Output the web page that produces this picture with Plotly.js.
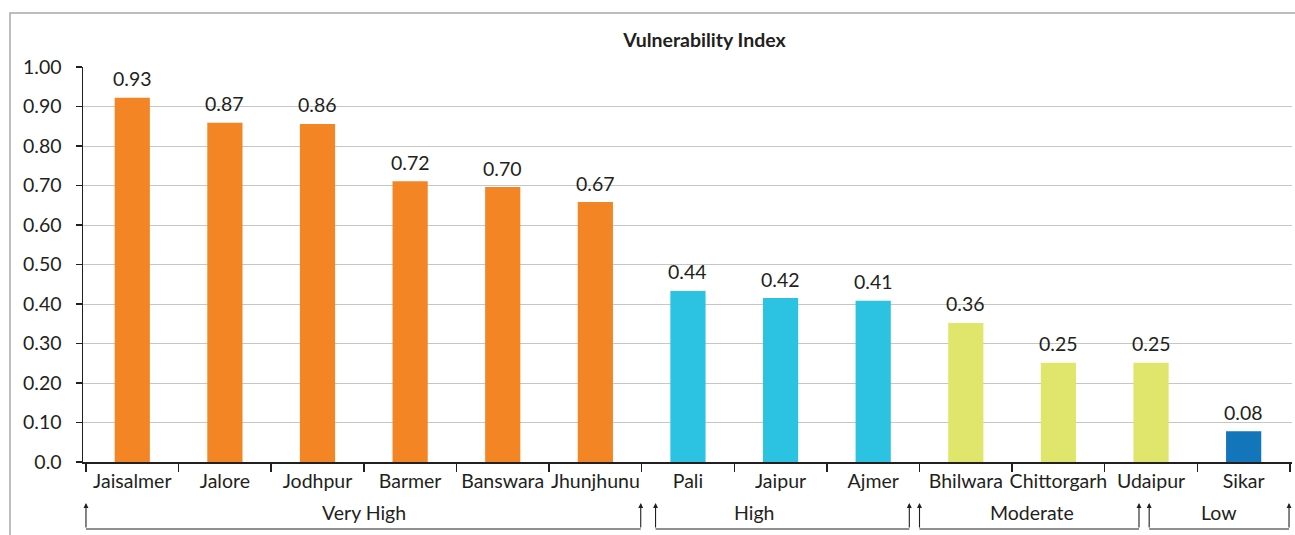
<!DOCTYPE html>
<html>
<head>
<meta charset="utf-8">
<script src="https://cdn.plot.ly/plotly-3.0.1.min.js"></script>
<style>html,body{margin:0;padding:0;background:#fff;}#chart{width:1295px;height:535px;}</style>
</head>
<body>
<div id="chart"></div>
<script>
// ---- data ----
const districts = ['Jaisalmer','Jalore','Jodhpur','Barmer','Banswara','Jhunjhunu','Pali','Jaipur','Ajmer','Bhilwara','Chittorgarh','Udaipur','Sikar'];
const indexValues = [0.922, 0.859, 0.856, 0.711, 0.696, 0.658, 0.433, 0.415, 0.408, 0.352, 0.251, 0.251, 0.078];
const valueLabels = ['0.93','0.87','0.86','0.72','0.70','0.67','0.44','0.42','0.41','0.36','0.25','0.25','0.08'];
const districtGroup = ['Very High','Very High','Very High','Very High','Very High','Very High','High','High','High','Moderate','Moderate','Moderate','Low'];
const groupNames = ['Very High','High','Moderate','Low'];
const yTickVals = [0,0.1,0.2,0.3,0.4,0.5,0.6,0.7,0.8,0.9,1.0];
const yTickText = ['0.0','0.10','0.20','0.30','0.40','0.50','0.60','0.70','0.80','0.90','1.00'];

// ---- styling / layout helpers ----
const groupColors = {'Very High':'#f48524','High':'#2bc3e1','Moderate':'#e0e56b','Low':'#1375ba'};
// bracket extents (category-index units) and label centres for each group
const bracketStart = [-0.5, 5.65, 8.5, 10.98];
const bracketEnd   = [5.49, 8.39, 10.87, 12.49];
const bracketLabelX = [2.5, 6.71, 9.71, 11.73];

const font = 'Lato, Noto Sans, sans-serif';
const fs = 19.5;
const ink = '#231f20';

const trace = {
  type: 'bar',
  x: districts,
  y: indexValues,
  marker: {color: districtGroup.map(g => groupColors[g])},
  hoverinfo: 'x+y'
};

const annotations = [];
districts.forEach((d, i) => {
  annotations.push({
    x: d, y: indexValues[i], xref: 'x', yref: 'y',
    text: valueLabels[i], showarrow: false,
    yanchor: 'middle', yshift: 19,
    font: {family: font, size: fs, color: ink}
  });
});

const yTop = -0.104, yBot = -0.1696, yLab = -0.129;
const shapes = [
  {type:'rect', xref:'paper', yref:'paper', x0:-0.0604, x1:1.02, y0:-0.3, y1:1.1367,
   line:{color:'#a8a8a8', width:1.5}, fillcolor:'rgba(0,0,0,0)', layer:'below'}
];
groupNames.forEach((g, i) => {
  shapes.push({type:'line', xref:'x', yref:'paper', x0:bracketStart[i], x1:bracketEnd[i], y0:yBot, y1:yBot,
    line:{color:ink, width:1.2}});
  [bracketStart[i], bracketEnd[i]].forEach(xv => {
    annotations.push({x: xv, y: yTop, xref:'x', yref:'paper', text:'', showarrow:true,
      ax: 0, ay: 26, axref:'pixel', ayref:'pixel', arrowhead: 2, arrowsize: 0.9, arrowwidth: 1.1, arrowcolor: ink});
  });
  annotations.push({x: bracketLabelX[i], y: yLab, xref:'x', yref:'paper', text: g, showarrow:false,
    yanchor:'middle', font:{family: font, size: fs, color: ink}});
});

const layout = {
  width: 1295, height: 535,
  margin: {l: 83, r: 3, t: 67, b: 73},
  paper_bgcolor: '#ffffff', plot_bgcolor: '#ffffff',
  bargap: 0.62,
  showlegend: false,
  title: {text: '<b>Vulnerability Index</b>', x: 0.544, xanchor: 'center', y: 1 - 40/535, yanchor: 'middle',
          font: {family: font, size: 19.5, color: ink}},
  xaxis: {
    type: 'category', showgrid: false, showline: true, linecolor: ink, linewidth: 1.5,
    ticks: 'outside', tickson: 'boundaries', ticklen: 8, tickcolor: ink, tickwidth: 1.5,
    tickangle: 0, ticklabelstandoff: 1,
    tickfont: {family: font, size: fs, color: ink}, fixedrange: true
  },
  yaxis: {
    range: [0, 1.0], tickvals: yTickVals, ticktext: yTickText,
    showgrid: true, gridcolor: '#c6c6c6', gridwidth: 1, zeroline: false,
    showline: true, linecolor: ink, linewidth: 1.5,
    ticks: 'outside', ticklen: 6, tickcolor: ink, tickwidth: 1.5, ticklabelstandoff: 10,
    tickfont: {family: font, size: fs, color: ink}, fixedrange: true
  },
  shapes: shapes,
  annotations: annotations
};

Plotly.newPlot('chart', [trace], layout, {displayModeBar: false, staticPlot: true});
</script>
</body>
</html>
